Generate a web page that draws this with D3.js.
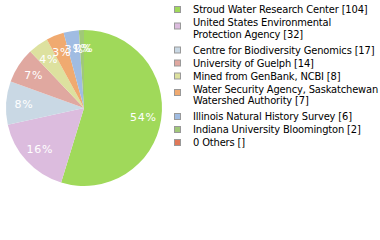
<!DOCTYPE html>
<html><head><meta charset="utf-8">
<script src="https://cdn.jsdelivr.net/npm/d3@7"></script>
<style>html,body{margin:0;padding:0;background:#fff;}svg{display:block;}</style>
</head><body>
<svg id="chart" width="380" height="240"></svg>
<script>
const categories = ["Stroud Water Research Center","United States Environmental\nProtection Agency","Centre for Biodiversity Genomics","University of Guelph","Mined from GenBank, NCBI","Water Security Agency, Saskatchewan\nWatershed Authority","Illinois Natural History Survey","Indiana University Bloomington","0 Others"];
const values = [104,32,17,14,8,7,6,2,0];
const countLabels = ["[104]","[32]","[17]","[14]","[8]","[7]","[6]","[2]","[]"];
const colors = ["#a0d95a","#dcbcde","#c9d8e4","#e0a8a0","#dde19f","#f0aa70","#a0bce2","#a0c878","#e07858"];

(function(){
const svg = d3.select("#chart");
const font = "'DejaVu Sans', Verdana, sans-serif";
const cx = 84, cy = 108, r = 78;
const total = d3.sum(values);
const data = values.map((v,i)=>({v,i}));
const pie = d3.pie().value(d=>d.v).sort(null);
const arcs = pie(data);
const arc = d3.arc().innerRadius(0).outerRadius(r);
const labelArc = d3.arc().innerRadius(r*0.77).outerRadius(r*0.77);
const color = d3.scaleOrdinal().domain(d3.range(values.length)).range(colors);

const g = svg.append("g").attr("transform",`translate(${cx},${cy})`);
g.selectAll("path").data(arcs).join("path")
  .attr("d",arc).attr("fill",d=>color(d.data.i));
g.selectAll("text").data(arcs).join("text")
  .attr("transform",d=>`translate(${labelArc.centroid(d)})`)
  .attr("text-anchor","middle").attr("dy","0.35em")
  .attr("fill","#fff").attr("font-family",font).attr("font-size","11px")
  .attr("letter-spacing","0.8px")
  .text(d=>Math.floor(d.data.v/total*100)+"%");

const lg = svg.append("g");
let y0 = 3;
categories.forEach((c,i)=>{
  const lines = (c + " " + countLabels[i]).split("\n");
  const n = lines.length;
  const sq = y0 + 6.5 + (n-1)*3.5;
  lg.append("rect").attr("x",174.5).attr("y",sq-3).attr("width",6).attr("height",6)
    .attr("fill",color(i)).attr("stroke","#999").attr("stroke-width",1);
  lines.forEach((ln,k)=>{
    lg.append("text").attr("x",193).attr("y",y0+6+k*11.5+4)
      .attr("font-family",font).attr("font-size","11px").attr("font-stretch","condensed")
      .attr("letter-spacing","-0.15px")
      .attr("fill","#000").text(ln);
  });
  y0 += 13 + (n-1)*14.5;
});
})();
</script>
</body></html>
